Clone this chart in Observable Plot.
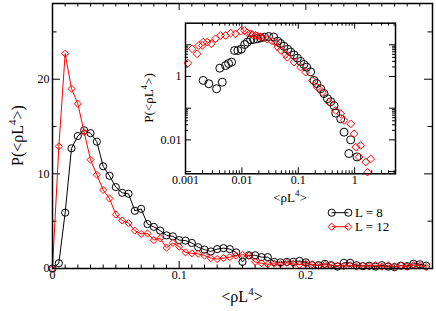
<!DOCTYPE html>
<html><head><meta charset="utf-8">
<script src="https://cdn.jsdelivr.net/npm/d3@7"></script>
<script src="https://cdn.jsdelivr.net/npm/@observablehq/plot@0.6"></script>
<style>
body{margin:0;background:#fff;}
#chart{position:relative;width:436px;height:311px;overflow:hidden;background:#fff;}
#chart svg{position:absolute;font-family:'Liberation Serif','Times New Roman',serif;}
</style></head><body><div id="chart"></div>
<script>
// ---- data ----
const seriesNames = ["L = 8", "L = 12"];
const mainX = [0,0.005,0.01,0.015,0.02,0.025,0.03,0.035,0.04,0.045,
  0.05,0.055,0.06,0.065,0.07,0.075,0.08,0.085,0.09,0.095,
  0.1,0.105,0.11,0.115,0.12,0.125,0.13,0.135,0.14,0.145,
  0.15,0.155,0.16,0.165,0.17,0.175,0.18,0.185,0.19,0.195,
  0.2,0.205,0.21,0.215,0.22,0.225,0.23,0.235,0.24,0.245,
  0.25,0.255,0.26,0.265,0.27,0.275,0.28,0.285,0.29,0.295];
const mainY8 = [0,0.56,5.9,12.7,14.0,14.6,14.3,13.4,10.8,9.8,
  8.6,8.0,7.9,6.1,6.3,4.7,4.4,4.0,3.5,3.4,
  3.0,2.95,2.7,2.25,2.0,1.8,2.05,2.15,2.05,1.7,
  0.7,1.4,1.4,1.2,1.2,0.7,0.65,0.7,0.7,0.8,
  0.65,0.35,0.35,0.5,0.35,0.2,0.6,0.6,0.35,0.25,
  0.3,0.2,0.35,0.2,0.15,0.3,0.25,0.5,0.45,0.3];
const mainY12 = [0,12.9,22.7,19.0,17.4,14.4,11.5,9.9,8.3,7.4,
  5.7,5.07,4.8,4.0,3.65,3.7,3.0,3.2,2.2,2.7,
  2.3,1.7,1.6,1.55,1.37,1.1,1.0,1.1,1.2,1.35,
  1.45,1.35,0.7,0.55,0.45,0.5,0.45,0.6,0.5,0.4,
  0.5,0.45,0.3,0.4,0.35,0.3,0.25,0.35,0.2,0.3,
  0.25,0.35,0.2,0.35,0.2,0.3,0.2,0.35,0.3,0.15];
const insetX8 = [0.00206,0.00259,0.00356,0.00449,0.00406,0.00513,0.00581,0.00656,0.00741,0.00849,
  0.00975,0.0112,0.0125,0.0143,0.0161,0.0188,0.0215,0.0253,0.0298,0.0366,
  0.0431,0.0486,0.0557,0.0649,0.0733,0.0839,0.0964,0.110,0.126,0.141,
  0.166,0.190,0.212,0.250,0.286,0.329,0.376,0.431,0.461,0.566,
  0.649,0.85,0.79,1.1];
const insetY8 = [0.75,0.59,0.41,0.66,1.83,2.22,2.57,2.83,6.6,6.6,
  7.3,10.2,12.1,14.4,14.7,15.5,16.4,17.4,18.3,17.6,
  13,11,9,7.2,5.9,4.8,3.8,3.0,2.4,1.97,
  1.4,0.75,0.6,0.41,0.29,0.2,0.16,0.12,0.07,0.046,
  0.0175,0.01,0.0037,0.0029];
const insetX12 = [0.0011,0.00131,0.00161,0.00172,0.00198,0.00206,0.00243,0.00286,0.00341,0.00419,
  0.00513,0.0063,0.00773,0.00948,0.0112,0.0125,0.0143,0.0153,0.0175,0.0188,
  0.021,0.023,0.0282,0.0347,0.0395,0.0431,0.0486,0.0597,0.064,0.0839,
  0.110,0.135,0.178,0.218,0.268,0.351,0.461,0.566,0.649,0.853,
  0.975,1.28,1.05,1.2,1.93,1.57,1.69];
const insetY12 = [2.63,7.5,5.2,9.5,9.5,12.1,12.1,10.8,15.5,19.7,
  19.7,23.2,22.2,26.9,28.3,24,22,21,20,19,
  18,17,15,13,12,8.5,6.8,5.0,4.06,2.83,
  1.97,1.37,0.75,0.46,0.32,0.155,0.085,0.067,0.041,0.032,
  0.0156,0.0067,0.0059,0.0029,0.0025,0.002,0.00096];
const mainXTicks = [0, 0.1, 0.2];
const mainYTicks = [0, 10, 20];
const insetXTicks = [0.001, 0.01, 0.1, 1];
const insetYTicks = [0.01, 1];

// ---- tables ----
const main8 = mainX.map((x, i) => ({x, y: mainY8[i]}));
const main12 = mainX.map((x, i) => ({x, y: mainY12[i]}));
const in8 = insetX8.map((x, i) => ({x, y: insetY8[i]}));
const in12 = insetX12.map((x, i) => ({x, y: insetY12[i]}));

const FONT = "Liberation Serif";
const RED = "#ff0000";

function edgeTicks(vals, axis, len, fw, fh) {
  if (axis === "x") return [
    Plot.tickX(vals, {x: d => d, stroke: "black", strokeWidth: 1, insetTop: fh - len}),
    Plot.tickX(vals, {x: d => d, stroke: "black", strokeWidth: 1, insetBottom: fh - len})
  ];
  return [
    Plot.tickY(vals, {y: d => d, stroke: "black", strokeWidth: 1, insetRight: fw - len}),
    Plot.tickY(vals, {y: d => d, stroke: "black", strokeWidth: 1, insetLeft: fw - len})
  ];
}

// ---- main plot ----
const W = 436, H = 311, mL = 52, mR = 4, mT = 3, mB = 43;
const fw = W - mL - mR, fh = H - mT - mB;
const mainXMinor = d3.range(1, 30).map(i => i / 100).filter((d, i) => (i + 1) % 10 !== 0);
const mainXMajor = [0, 0.1, 0.2, 0.3];
const mainYMinor = [5, 15, 25];

const main = Plot.plot({
  width: W, height: H,
  marginLeft: mL, marginRight: mR, marginTop: mT, marginBottom: mB,
  x: {domain: [0, 0.3], axis: null},
  y: {domain: [0, 28], axis: null},
  style: {fontFamily: FONT, fontSize: "12px", color: "black", background: "white"},
  marks: [
    ...edgeTicks(mainXMajor, "x", 7, fw, fh),
    ...edgeTicks(mainXMinor, "x", 3.5, fw, fh),
    ...edgeTicks(mainYTicks, "y", 8, fw, fh),
    ...edgeTicks(mainYMinor, "y", 4.5, fw, fh),
    Plot.line(main8, {x: "x", y: "y", stroke: "black", strokeWidth: 1}),
    Plot.dot(main8, {x: "x", y: "y", r: 3.6, stroke: "black", fill: "none", strokeWidth: 1}),
    Plot.line(main12, {x: "x", y: "y", stroke: RED, strokeWidth: 1}),
    Plot.dot(main12, {x: "x", y: "y", r: 3.2, symbol: "diamond2", stroke: RED, fill: "none", strokeWidth: 1}),
    Plot.text(mainXTicks, {x: d => d, frameAnchor: "bottom", dy: 10.5, text: d => String(d), fontSize: 12, fontFamily: FONT, fill: "black"}),
    Plot.text(mainYTicks, {y: d => d, frameAnchor: "left", dx: -3, textAnchor: "end", text: d => String(d), fontSize: 12, fontFamily: FONT, fill: "black"}),
    Plot.frame({stroke: "black", strokeWidth: 1.5})
  ]
});
main.style.left = "0px"; main.style.top = "0px";
main.setAttribute("font-family", FONT);

const ms = d3.select(main);
const xl = ms.append("text").attr("x", 242).attr("y", 302).attr("text-anchor", "middle")
  .attr("font-family", FONT).attr("font-size", 16).attr("fill", "black");
xl.append("tspan").text("<ρL");
xl.append("tspan").attr("dy", -7).attr("font-size", 11).text("4");
xl.append("tspan").attr("dy", 7).text(">");
const yl = ms.append("text").attr("transform", "translate(23,135.5) rotate(-90)").attr("text-anchor", "middle")
  .attr("font-family", FONT).attr("font-size", 16).attr("fill", "black");
yl.append("tspan").text("P(<ρL");
yl.append("tspan").attr("dy", -7).attr("font-size", 11).text("4");
yl.append("tspan").attr("dy", 7).text(">)");

// legend
const lg = ms.append("g").attr("font-family", FONT).attr("font-size", 13).attr("text-anchor", "start");
[[212.7, "black", "circle"], [226.7, RED, "diamond"]].forEach(([y, c, s], i) => {
  lg.append("line").attr("x1", 331.7).attr("x2", 348.3).attr("y1", y).attr("y2", y).attr("stroke", c);
  [331.7, 348.3].forEach(x => {
    if (s === "circle") lg.append("circle").attr("cx", x).attr("cy", y).attr("r", 3.6).attr("fill", "none").attr("stroke", c);
    else lg.append("path").attr("d", `M${x},${y-3.6}L${x+3.6},${y}L${x},${y+3.6}L${x-3.6},${y}Z`).attr("fill", "none").attr("stroke", c);
  });
  lg.append("text").attr("x", 355).attr("y", y + 4.5).attr("text-anchor", "start").attr("fill", "black").text(seriesNames[i]);
});

// ---- inset ----
const IW = 275, IH = 200, iL = 55, iR = 10, iT = 7.7, iB = 41.7;
const ifw = IW - iL - iR, ifh = IH - iT - iB;
const insetXMajor = [0.001, 0.01, 0.1, 1];
const insetXMinor = [];
[-3, -2, -1, 0].forEach(k => { for (let m = 2; m <= 9; m++) { const v = m * Math.pow(10, k); if (v <= 5.3) insetXMinor.push(v); } });
const insetYMajor = [0.001, 0.01, 0.1, 1, 10];
const insetYMinor = [];
[-2, 0].forEach(k => { for (let m = 2; m <= 9; m++) insetYMinor.push(m * Math.pow(10, k)); });

const inset = Plot.plot({
  width: IW, height: IH,
  marginLeft: iL, marginRight: iR, marginTop: iT, marginBottom: iB,
  x: {type: "log", domain: [0.001, 5.3], axis: null},
  y: {type: "log", domain: [0.00085, 48], axis: null},
  style: {fontFamily: FONT, fontSize: "12px", color: "black", background: "transparent", overflow: "visible"},
  marks: [
    ...edgeTicks(insetXMajor, "x", 6, ifw, ifh),
    ...edgeTicks(insetXMinor, "x", 3, ifw, ifh),
    ...edgeTicks(insetYMajor, "y", 6, ifw, ifh),
    ...edgeTicks(insetYMinor, "y", 3, ifw, ifh),
    Plot.dot(in8, {x: "x", y: "y", r: 4, stroke: "black", fill: "none", strokeWidth: 1}),
    Plot.dot(in12, {x: "x", y: "y", r: 3.5, symbol: "diamond2", stroke: RED, fill: "none", strokeWidth: 1}),
    Plot.text(insetXTicks, {x: d => d, frameAnchor: "bottom", dy: 10, text: d => String(d), fontSize: 12, fontFamily: FONT, fill: "black"}),
    Plot.text(insetYTicks, {y: d => d, frameAnchor: "left", dx: -4, textAnchor: "end", text: d => String(d), fontSize: 12, fontFamily: FONT, fill: "black"}),
    Plot.frame({stroke: "black", strokeWidth: 1.5})
  ]
});
inset.style.left = "130px"; inset.style.top = "15px";
inset.setAttribute("font-family", FONT);
const is = d3.select(inset);
const ixl = is.append("text").attr("x", 160).attr("y", 187).attr("text-anchor", "middle")
  .attr("font-family", FONT).attr("font-size", 13).attr("fill", "black");
ixl.append("tspan").text("<ρL");
ixl.append("tspan").attr("dy", -6).attr("font-size", 9).text("4");
ixl.append("tspan").attr("dy", 6).text(">");
const iyl = is.append("text").attr("transform", "translate(23,83) rotate(-90)").attr("text-anchor", "middle")
  .attr("font-family", FONT).attr("font-size", 13).attr("fill", "black");
iyl.append("tspan").text("P(<ρL");
iyl.append("tspan").attr("dy", -6).attr("font-size", 9).text("4");
iyl.append("tspan").attr("dy", 6).text(">)");

const chart = document.getElementById("chart");
chart.appendChild(main);
chart.appendChild(inset);
</script></body></html>
